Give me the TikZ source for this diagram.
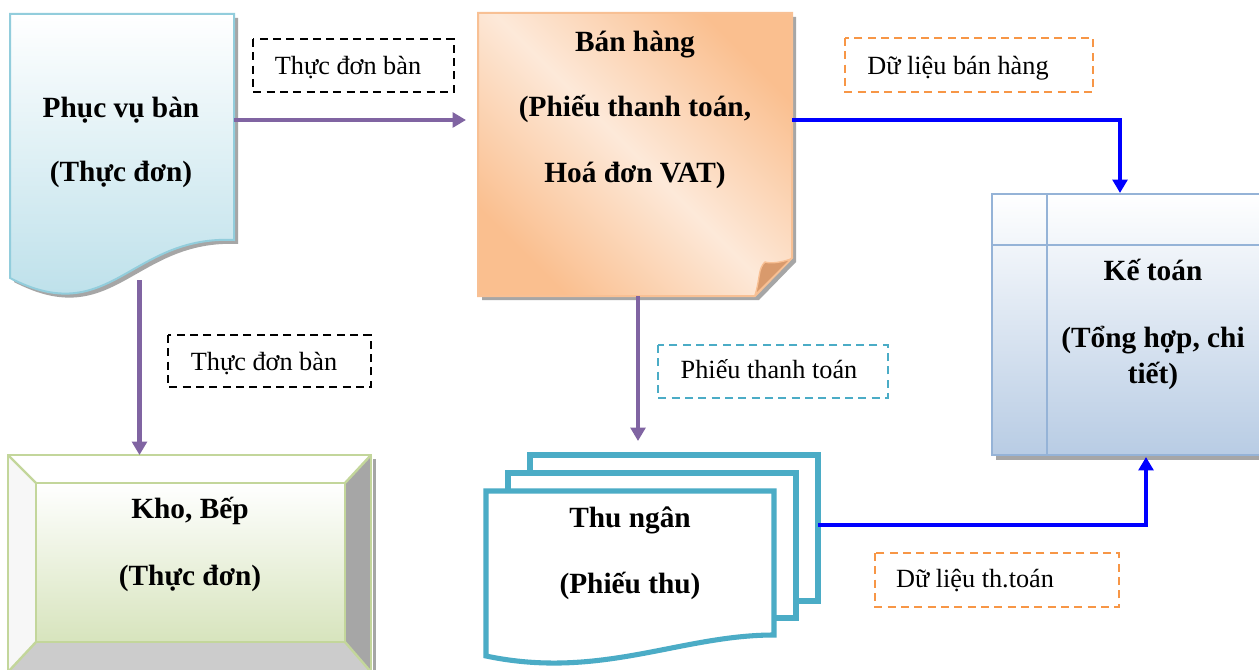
\documentclass[tikz,border=0pt]{standalone}
\usepackage{fontspec}
\setmainfont{Liberation Serif}
\usetikzlibrary{arrows.meta}
\definecolor{docline}{HTML}{92CDDC}
\definecolor{docfill}{HTML}{B6DDE8}
\definecolor{orD}{HTML}{FABF8F}
\definecolor{orL}{HTML}{FDE9D9}
\definecolor{orline}{HTML}{F8C094}
\definecolor{orflap}{HTML}{D99A6C}
\definecolor{ktline}{HTML}{95B3D7}
\definecolor{ktfill}{HTML}{B8CCE4}
\definecolor{grline}{HTML}{C3D69B}
\definecolor{grfill}{HTML}{D7E4BD}
\definecolor{tnline}{HTML}{4BACC6}
\definecolor{purp}{HTML}{8064A2}
\definecolor{lblorange}{HTML}{F79646}
\begin{document}
\begin{tikzpicture}[x=0.75pt,y=-0.75pt,
  title/.style={font=\bfseries\fontsize{22}{26}\selectfont, anchor=base, inner sep=0pt},
  lbltext/.style={font=\fontsize{19.7}{23}\selectfont, anchor=base, inner sep=0pt},
  lblbox/.style={dashed, dash pattern=on 6pt off 4pt, line width=1.2pt},
  shadow/.style={fill=black!35},
  purparrow/.style={draw=purp, line width=3.3pt, -{Triangle[width=11pt,length=10pt]}},
  bluearrow/.style={draw=blue, line width=3.2pt, -{Triangle[width=11pt,length=10pt]}}
]
\useasboundingbox (0,0) rectangle (1259,670);
\clip (0,0) rectangle (1259,670);
\fill[white] (0,0) rectangle (1259,670);

% ---------- Phuc vu ban (document) ----------
\fill[shadow] (14,18) -- (238,18) -- (238,244) .. controls (134,239) and (114,334) .. (14,282) -- cycle;
\shadedraw[top color=white, bottom color=docfill, draw=docline, line width=1.5pt]
  (10,14) -- (234,14) -- (234,240) .. controls (130,235) and (110,330) .. (10,278) -- cycle;
\node[title] (pv1) at (121,118) {Phục vụ bàn};
\node[title] (pv2) at (121,182) {(Thực đơn)};

% ---------- Ban hang (note) ----------
\fill[shadow] (482,17) -- (796,17) -- (796,262) -- (759,300) -- (482,300) -- cycle;
\shadedraw[left color=orD, right color=orD, middle color=orL, shading angle=135, draw=orline, line width=1.5pt]
  (478,13) -- (792,13) -- (792,258) -- (755,296) -- (478,296) -- cycle;
\filldraw[fill=orflap, draw=orline, line width=1pt]
  (755,295) .. controls (760,280) and (758,268) .. (765,262) .. controls (772,264) and (782,262) .. (791,259) -- cycle;
\node[title] (bh1) at (635,52) {Bán hàng};
\node[title] (bh2) at (635,117) {(Phiếu thanh toán,};
\node[title] (bh3) at (635,183) {Hoá đơn VAT)};

% ---------- Ke toan (internal storage) ----------
\fill[shadow] (996,198) rectangle (1265,460);
\shadedraw[top color=white, bottom color=ktfill, draw=ktline, line width=1.8pt] (992,194) rectangle (1262,455);
\draw[ktline, line width=1.8pt] (1047,194) -- (1047,455);
\draw[ktline, line width=1.8pt] (992,245) -- (1262,245);
\node[title] (kt1) at (1153,280) {Kế toán};
\node[title] (kt2) at (1153,347) {(Tổng hợp, chi};
\node[title] (kt3) at (1153,383) {tiết)};

% ---------- Kho, Bep (bevel) ----------
\fill[shadow] (373,459) rectangle (376,672);
\fill[white] (8,455) -- (371,455) -- (345,483) -- (36,483) -- cycle;
\fill[black!3] (8,455) -- (36,483) -- (36,642) -- (8,672) -- cycle;
\fill[black!35] (371,455) -- (371,672) -- (345,642) -- (345,483) -- cycle;
\fill[black!20] (36,642) -- (345,642) -- (371,672) -- (8,672) -- cycle;
\shade[top color=white, bottom color=grfill] (36,483) rectangle (345,642);
\draw[grline, line width=1.8pt] (8,455) rectangle (371,672);
\draw[grline, line width=1.8pt] (36,483) rectangle (345,642);
\draw[grline, line width=1.8pt] (8,455) -- (36,483) (371,455) -- (345,483) (8,672) -- (36,642) (371,672) -- (345,642);
\node[title] (kb1) at (190,518) {Kho, Bếp};
\node[title] (kb2) at (190,585) {(Thực đơn)};

% ---------- Thu ngan (multi-document) ----------
\filldraw[fill=white, draw=tnline, line width=3.8pt] (530,455) rectangle (818,601);
\filldraw[fill=white, draw=tnline, line width=3.8pt] (508,473) rectangle (796,618);
\filldraw[fill=white, draw=tnline, line width=3.8pt]
  (486,491) -- (774,491) -- (774,635) .. controls (680,635) and (600,680) .. (486,656) -- cycle;
\node[title] (tn1) at (630,527) {Thu ngân};
\node[title] (tn2) at (630,593) {(Phiếu thu)};

% ---------- connector end points ----------
\coordinate (pv-e) at (234,120);
\coordinate (bh-w) at (466,120);
\coordinate (pv-s) at (139.5,280);
\coordinate (kb-n) at (139.5,455);
\coordinate (bh-s) at (638,296);
\coordinate (tn-n) at (638,441);
\coordinate (bh-e) at (792,120);
\coordinate (kt-n) at (1120,193);
\coordinate (tn-e) at (818,525);
\coordinate (kt-s) at (1146,457);

\draw[purparrow] (pv-e) -- (bh-w);
\draw[purparrow] (pv-s) -- (kb-n);
\draw[purparrow] (bh-s) -- (tn-n);
\draw[bluearrow] (bh-e) -| (kt-n);
\draw[bluearrow] (tn-e) -| (kt-s);

% ---------- labels ----------
\draw[lblbox, black] (253,39) rectangle (454,92);
\node[lbltext] (l1) at (348,75) {Thực đơn bàn};
\draw[lblbox, black] (168,335) rectangle (371,387);
\node[lbltext] (l2) at (264,370) {Thực đơn bàn};
\draw[lblbox, lblorange] (845,38) rectangle (1093,92);
\node[lbltext] (l3) at (958,75) {Dữ liệu bán hàng};
\draw[lblbox, tnline] (658,345) rectangle (888,398);
\node[lbltext] (l4) at (769,378) {Phiếu thanh toán};
\draw[lblbox, lblorange] (875,553) rectangle (1119,607);
\node[lbltext] (l5) at (975,587) {Dữ liệu th.toán};
\end{tikzpicture}
\end{document}
